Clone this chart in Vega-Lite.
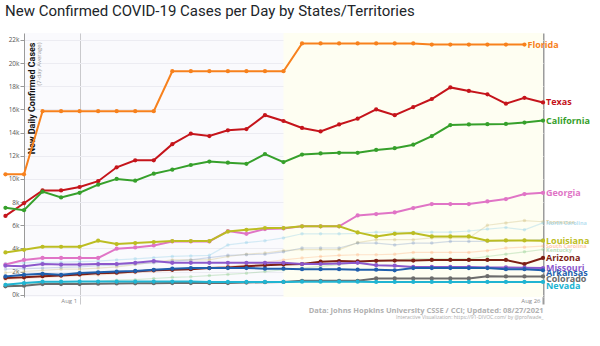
{
  "$schema": "https://vega.github.io/schema/vega-lite/v6.json",
  "width": 519,
  "height": 264,
  "autosize": {"type": "none"},
  "padding": {"left": 24, "top": 33, "right": 57, "bottom": 49},
  "background": "#ffffff",
  "title": {
    "text": "New Confirmed COVID-19 Cases per Day by States/Territories",
    "anchor": "start", "frame": "group", "dx": -19, "offset": 14,
    "font": "Roboto", "fontSize": 15, "fontWeight": "normal", "color": "#212529"
  },
  "config": {"view": {"fill": "#fafafd", "stroke": null}, "font": "Open Sans"},
  "datasets": {
    "band": [{"from": "2021-08-12", "to": "2021-08-26"}],
    "series": [
{"state":"Florida","date":"2021-07-28","cases":10400},{"state":"Florida","date":"2021-07-29","cases":10400},{"state":"Florida","date":"2021-07-30","cases":15850},{"state":"Florida","date":"2021-07-31","cases":15850},{"state":"Florida","date":"2021-08-01","cases":15850},{"state":"Florida","date":"2021-08-02","cases":15850},{"state":"Florida","date":"2021-08-03","cases":15850},{"state":"Florida","date":"2021-08-04","cases":15850},{"state":"Florida","date":"2021-08-05","cases":15850},{"state":"Florida","date":"2021-08-06","cases":19300},{"state":"Florida","date":"2021-08-07","cases":19300},{"state":"Florida","date":"2021-08-08","cases":19300},{"state":"Florida","date":"2021-08-09","cases":19300},{"state":"Florida","date":"2021-08-10","cases":19300},{"state":"Florida","date":"2021-08-11","cases":19300},{"state":"Florida","date":"2021-08-12","cases":19300},{"state":"Florida","date":"2021-08-13","cases":21700},{"state":"Florida","date":"2021-08-14","cases":21700},{"state":"Florida","date":"2021-08-15","cases":21700},{"state":"Florida","date":"2021-08-16","cases":21700},{"state":"Florida","date":"2021-08-17","cases":21700},{"state":"Florida","date":"2021-08-18","cases":21700},{"state":"Florida","date":"2021-08-19","cases":21700},{"state":"Florida","date":"2021-08-20","cases":21600},{"state":"Florida","date":"2021-08-21","cases":21600},{"state":"Florida","date":"2021-08-22","cases":21600},{"state":"Florida","date":"2021-08-23","cases":21600},{"state":"Florida","date":"2021-08-24","cases":21600},{"state":"Florida","date":"2021-08-25","cases":21600},
{"state":"Texas","date":"2021-07-28","cases":6800},{"state":"Texas","date":"2021-07-29","cases":7900},{"state":"Texas","date":"2021-07-30","cases":9000},{"state":"Texas","date":"2021-07-31","cases":9000},{"state":"Texas","date":"2021-08-01","cases":9300},{"state":"Texas","date":"2021-08-02","cases":9800},{"state":"Texas","date":"2021-08-03","cases":11000},{"state":"Texas","date":"2021-08-04","cases":11600},{"state":"Texas","date":"2021-08-05","cases":11600},{"state":"Texas","date":"2021-08-06","cases":13000},{"state":"Texas","date":"2021-08-07","cases":13900},{"state":"Texas","date":"2021-08-08","cases":13700},{"state":"Texas","date":"2021-08-09","cases":14200},{"state":"Texas","date":"2021-08-10","cases":14300},{"state":"Texas","date":"2021-08-11","cases":15500},{"state":"Texas","date":"2021-08-12","cases":15000},{"state":"Texas","date":"2021-08-13","cases":14400},{"state":"Texas","date":"2021-08-14","cases":14100},{"state":"Texas","date":"2021-08-15","cases":14700},{"state":"Texas","date":"2021-08-16","cases":15200},{"state":"Texas","date":"2021-08-17","cases":16000},{"state":"Texas","date":"2021-08-18","cases":15500},{"state":"Texas","date":"2021-08-19","cases":16200},{"state":"Texas","date":"2021-08-20","cases":16900},{"state":"Texas","date":"2021-08-21","cases":17900},{"state":"Texas","date":"2021-08-22","cases":17600},{"state":"Texas","date":"2021-08-23","cases":17300},{"state":"Texas","date":"2021-08-24","cases":16500},{"state":"Texas","date":"2021-08-25","cases":17000},{"state":"Texas","date":"2021-08-26","cases":16600},
{"state":"California","date":"2021-07-28","cases":7500},{"state":"California","date":"2021-07-29","cases":7300},{"state":"California","date":"2021-07-30","cases":8900},{"state":"California","date":"2021-07-31","cases":8400},{"state":"California","date":"2021-08-01","cases":8800},{"state":"California","date":"2021-08-02","cases":9500},{"state":"California","date":"2021-08-03","cases":10000},{"state":"California","date":"2021-08-04","cases":9850},{"state":"California","date":"2021-08-05","cases":10450},{"state":"California","date":"2021-08-06","cases":10800},{"state":"California","date":"2021-08-07","cases":11200},{"state":"California","date":"2021-08-08","cases":11500},{"state":"California","date":"2021-08-09","cases":11400},{"state":"California","date":"2021-08-10","cases":11300},{"state":"California","date":"2021-08-11","cases":12150},{"state":"California","date":"2021-08-12","cases":11450},{"state":"California","date":"2021-08-13","cases":12100},{"state":"California","date":"2021-08-14","cases":12200},{"state":"California","date":"2021-08-15","cases":12250},{"state":"California","date":"2021-08-16","cases":12250},{"state":"California","date":"2021-08-17","cases":12500},{"state":"California","date":"2021-08-18","cases":12650},{"state":"California","date":"2021-08-19","cases":12950},{"state":"California","date":"2021-08-20","cases":13700},{"state":"California","date":"2021-08-21","cases":14650},{"state":"California","date":"2021-08-22","cases":14700},{"state":"California","date":"2021-08-23","cases":14730},{"state":"California","date":"2021-08-24","cases":14750},{"state":"California","date":"2021-08-25","cases":14870},{"state":"California","date":"2021-08-26","cases":15040},
{"state":"Georgia","date":"2021-07-28","cases":2600},{"state":"Georgia","date":"2021-07-29","cases":3000},{"state":"Georgia","date":"2021-07-30","cases":3170},{"state":"Georgia","date":"2021-07-31","cases":3170},{"state":"Georgia","date":"2021-08-01","cases":3170},{"state":"Georgia","date":"2021-08-02","cases":3170},{"state":"Georgia","date":"2021-08-03","cases":3970},{"state":"Georgia","date":"2021-08-04","cases":4080},{"state":"Georgia","date":"2021-08-05","cases":4250},{"state":"Georgia","date":"2021-08-06","cases":4600},{"state":"Georgia","date":"2021-08-07","cases":4600},{"state":"Georgia","date":"2021-08-08","cases":4600},{"state":"Georgia","date":"2021-08-09","cases":5500},{"state":"Georgia","date":"2021-08-10","cases":5260},{"state":"Georgia","date":"2021-08-11","cases":5670},{"state":"Georgia","date":"2021-08-12","cases":5720},{"state":"Georgia","date":"2021-08-13","cases":5900},{"state":"Georgia","date":"2021-08-14","cases":5900},{"state":"Georgia","date":"2021-08-15","cases":5900},{"state":"Georgia","date":"2021-08-16","cases":6840},{"state":"Georgia","date":"2021-08-17","cases":6960},{"state":"Georgia","date":"2021-08-18","cases":7100},{"state":"Georgia","date":"2021-08-19","cases":7480},{"state":"Georgia","date":"2021-08-20","cases":7830},{"state":"Georgia","date":"2021-08-21","cases":7830},{"state":"Georgia","date":"2021-08-22","cases":7830},{"state":"Georgia","date":"2021-08-23","cases":8050},{"state":"Georgia","date":"2021-08-24","cases":8260},{"state":"Georgia","date":"2021-08-25","cases":8690},{"state":"Georgia","date":"2021-08-26","cases":8800},
{"state":"Louisiana","date":"2021-07-28","cases":3650},{"state":"Louisiana","date":"2021-07-29","cases":3880},{"state":"Louisiana","date":"2021-07-30","cases":4140},{"state":"Louisiana","date":"2021-07-31","cases":4140},{"state":"Louisiana","date":"2021-08-01","cases":4140},{"state":"Louisiana","date":"2021-08-02","cases":4660},{"state":"Louisiana","date":"2021-08-03","cases":4370},{"state":"Louisiana","date":"2021-08-04","cases":4460},{"state":"Louisiana","date":"2021-08-05","cases":4550},{"state":"Louisiana","date":"2021-08-06","cases":4630},{"state":"Louisiana","date":"2021-08-07","cases":4630},{"state":"Louisiana","date":"2021-08-08","cases":4630},{"state":"Louisiana","date":"2021-08-09","cases":5450},{"state":"Louisiana","date":"2021-08-10","cases":5600},{"state":"Louisiana","date":"2021-08-11","cases":5750},{"state":"Louisiana","date":"2021-08-12","cases":5750},{"state":"Louisiana","date":"2021-08-13","cases":5900},{"state":"Louisiana","date":"2021-08-14","cases":5900},{"state":"Louisiana","date":"2021-08-15","cases":5900},{"state":"Louisiana","date":"2021-08-16","cases":5380},{"state":"Louisiana","date":"2021-08-17","cases":5030},{"state":"Louisiana","date":"2021-08-18","cases":5260},{"state":"Louisiana","date":"2021-08-19","cases":5320},{"state":"Louisiana","date":"2021-08-20","cases":5030},{"state":"Louisiana","date":"2021-08-21","cases":5030},{"state":"Louisiana","date":"2021-08-22","cases":5030},{"state":"Louisiana","date":"2021-08-23","cases":4660},{"state":"Louisiana","date":"2021-08-24","cases":4690},{"state":"Louisiana","date":"2021-08-25","cases":4690},{"state":"Louisiana","date":"2021-08-26","cases":4660},
{"state":"Arizona","date":"2021-07-28","cases":1450},{"state":"Arizona","date":"2021-07-29","cases":1500},{"state":"Arizona","date":"2021-07-30","cases":1600},{"state":"Arizona","date":"2021-07-31","cases":1650},{"state":"Arizona","date":"2021-08-01","cases":1750},{"state":"Arizona","date":"2021-08-02","cases":1850},{"state":"Arizona","date":"2021-08-03","cases":1900},{"state":"Arizona","date":"2021-08-04","cases":2000},{"state":"Arizona","date":"2021-08-05","cases":2100},{"state":"Arizona","date":"2021-08-06","cases":2150},{"state":"Arizona","date":"2021-08-07","cases":2200},{"state":"Arizona","date":"2021-08-08","cases":2300},{"state":"Arizona","date":"2021-08-09","cases":2350},{"state":"Arizona","date":"2021-08-10","cases":2450},{"state":"Arizona","date":"2021-08-11","cases":2550},{"state":"Arizona","date":"2021-08-12","cases":2600},{"state":"Arizona","date":"2021-08-13","cases":2650},{"state":"Arizona","date":"2021-08-14","cases":2850},{"state":"Arizona","date":"2021-08-15","cases":2900},{"state":"Arizona","date":"2021-08-16","cases":2870},{"state":"Arizona","date":"2021-08-17","cases":2930},{"state":"Arizona","date":"2021-08-18","cases":2950},{"state":"Arizona","date":"2021-08-19","cases":2950},{"state":"Arizona","date":"2021-08-20","cases":3000},{"state":"Arizona","date":"2021-08-21","cases":3000},{"state":"Arizona","date":"2021-08-22","cases":3000},{"state":"Arizona","date":"2021-08-23","cases":3000},{"state":"Arizona","date":"2021-08-24","cases":3000},{"state":"Arizona","date":"2021-08-25","cases":2650},{"state":"Arizona","date":"2021-08-26","cases":3170},
{"state":"Missouri","date":"2021-07-28","cases":2500},{"state":"Missouri","date":"2021-07-29","cases":2450},{"state":"Missouri","date":"2021-07-30","cases":2650},{"state":"Missouri","date":"2021-07-31","cases":2600},{"state":"Missouri","date":"2021-08-01","cases":2600},{"state":"Missouri","date":"2021-08-02","cases":2650},{"state":"Missouri","date":"2021-08-03","cases":2650},{"state":"Missouri","date":"2021-08-04","cases":2750},{"state":"Missouri","date":"2021-08-05","cases":2900},{"state":"Missouri","date":"2021-08-06","cases":2750},{"state":"Missouri","date":"2021-08-07","cases":2750},{"state":"Missouri","date":"2021-08-08","cases":2750},{"state":"Missouri","date":"2021-08-09","cases":2750},{"state":"Missouri","date":"2021-08-10","cases":2750},{"state":"Missouri","date":"2021-08-11","cases":2750},{"state":"Missouri","date":"2021-08-12","cases":2750},{"state":"Missouri","date":"2021-08-13","cases":2650},{"state":"Missouri","date":"2021-08-14","cases":2650},{"state":"Missouri","date":"2021-08-15","cases":2700},{"state":"Missouri","date":"2021-08-16","cases":2750},{"state":"Missouri","date":"2021-08-17","cases":2550},{"state":"Missouri","date":"2021-08-18","cases":2500},{"state":"Missouri","date":"2021-08-19","cases":2400},{"state":"Missouri","date":"2021-08-20","cases":2400},{"state":"Missouri","date":"2021-08-21","cases":2400},{"state":"Missouri","date":"2021-08-22","cases":2400},{"state":"Missouri","date":"2021-08-23","cases":2350},{"state":"Missouri","date":"2021-08-24","cases":2350},{"state":"Missouri","date":"2021-08-25","cases":2330},{"state":"Missouri","date":"2021-08-26","cases":2300},
{"state":"Arkansas","date":"2021-07-28","cases":1580},{"state":"Arkansas","date":"2021-07-29","cases":1720},{"state":"Arkansas","date":"2021-07-30","cases":1800},{"state":"Arkansas","date":"2021-07-31","cases":1720},{"state":"Arkansas","date":"2021-08-01","cases":1870},{"state":"Arkansas","date":"2021-08-02","cases":1930},{"state":"Arkansas","date":"2021-08-03","cases":2000},{"state":"Arkansas","date":"2021-08-04","cases":2050},{"state":"Arkansas","date":"2021-08-05","cases":2150},{"state":"Arkansas","date":"2021-08-06","cases":2250},{"state":"Arkansas","date":"2021-08-07","cases":2300},{"state":"Arkansas","date":"2021-08-08","cases":2300},{"state":"Arkansas","date":"2021-08-09","cases":2300},{"state":"Arkansas","date":"2021-08-10","cases":2300},{"state":"Arkansas","date":"2021-08-11","cases":2250},{"state":"Arkansas","date":"2021-08-12","cases":2250},{"state":"Arkansas","date":"2021-08-13","cases":2200},{"state":"Arkansas","date":"2021-08-14","cases":2200},{"state":"Arkansas","date":"2021-08-15","cases":2200},{"state":"Arkansas","date":"2021-08-16","cases":2160},{"state":"Arkansas","date":"2021-08-17","cases":2160},{"state":"Arkansas","date":"2021-08-18","cases":2100},{"state":"Arkansas","date":"2021-08-19","cases":2300},{"state":"Arkansas","date":"2021-08-20","cases":2300},{"state":"Arkansas","date":"2021-08-21","cases":2300},{"state":"Arkansas","date":"2021-08-22","cases":2300},{"state":"Arkansas","date":"2021-08-23","cases":2300},{"state":"Arkansas","date":"2021-08-24","cases":2200},{"state":"Arkansas","date":"2021-08-25","cases":2200},{"state":"Arkansas","date":"2021-08-26","cases":2100},
{"state":"Colorado","date":"2021-07-28","cases":720},{"state":"Colorado","date":"2021-07-29","cases":780},{"state":"Colorado","date":"2021-07-30","cases":920},{"state":"Colorado","date":"2021-07-31","cases":920},{"state":"Colorado","date":"2021-08-01","cases":920},{"state":"Colorado","date":"2021-08-02","cases":950},{"state":"Colorado","date":"2021-08-03","cases":970},{"state":"Colorado","date":"2021-08-04","cases":980},{"state":"Colorado","date":"2021-08-05","cases":990},{"state":"Colorado","date":"2021-08-06","cases":1000},{"state":"Colorado","date":"2021-08-07","cases":1000},{"state":"Colorado","date":"2021-08-08","cases":1000},{"state":"Colorado","date":"2021-08-09","cases":1000},{"state":"Colorado","date":"2021-08-10","cases":1050},{"state":"Colorado","date":"2021-08-11","cases":1080},{"state":"Colorado","date":"2021-08-12","cases":1100},{"state":"Colorado","date":"2021-08-13","cases":1200},{"state":"Colorado","date":"2021-08-14","cases":1200},{"state":"Colorado","date":"2021-08-15","cases":1200},{"state":"Colorado","date":"2021-08-16","cases":1200},{"state":"Colorado","date":"2021-08-17","cases":1400},{"state":"Colorado","date":"2021-08-18","cases":1400},{"state":"Colorado","date":"2021-08-19","cases":1400},{"state":"Colorado","date":"2021-08-20","cases":1400},{"state":"Colorado","date":"2021-08-21","cases":1400},{"state":"Colorado","date":"2021-08-22","cases":1400},{"state":"Colorado","date":"2021-08-23","cases":1600},{"state":"Colorado","date":"2021-08-24","cases":1580},{"state":"Colorado","date":"2021-08-25","cases":1580},{"state":"Colorado","date":"2021-08-26","cases":1580},
{"state":"Nevada","date":"2021-07-28","cases":850},{"state":"Nevada","date":"2021-07-29","cases":1000},{"state":"Nevada","date":"2021-07-30","cases":1120},{"state":"Nevada","date":"2021-07-31","cases":1120},{"state":"Nevada","date":"2021-08-01","cases":1130},{"state":"Nevada","date":"2021-08-02","cases":1130},{"state":"Nevada","date":"2021-08-03","cases":1130},{"state":"Nevada","date":"2021-08-04","cases":1130},{"state":"Nevada","date":"2021-08-05","cases":1130},{"state":"Nevada","date":"2021-08-06","cases":1130},{"state":"Nevada","date":"2021-08-07","cases":1130},{"state":"Nevada","date":"2021-08-08","cases":1100},{"state":"Nevada","date":"2021-08-09","cases":1100},{"state":"Nevada","date":"2021-08-10","cases":1100},{"state":"Nevada","date":"2021-08-11","cases":1100},{"state":"Nevada","date":"2021-08-12","cases":1100},{"state":"Nevada","date":"2021-08-13","cases":1120},{"state":"Nevada","date":"2021-08-14","cases":1120},{"state":"Nevada","date":"2021-08-15","cases":1120},{"state":"Nevada","date":"2021-08-16","cases":1120},{"state":"Nevada","date":"2021-08-17","cases":1100},{"state":"Nevada","date":"2021-08-18","cases":1100},{"state":"Nevada","date":"2021-08-19","cases":1100},{"state":"Nevada","date":"2021-08-20","cases":1100},{"state":"Nevada","date":"2021-08-21","cases":1100},{"state":"Nevada","date":"2021-08-22","cases":1100},{"state":"Nevada","date":"2021-08-23","cases":1100},{"state":"Nevada","date":"2021-08-24","cases":1100},{"state":"Nevada","date":"2021-08-25","cases":1100},{"state":"Nevada","date":"2021-08-26","cases":1100},
{"state":"Tennessee","date":"2021-07-28","cases":1900},{"state":"Tennessee","date":"2021-07-29","cases":2000},{"state":"Tennessee","date":"2021-07-30","cases":2100},{"state":"Tennessee","date":"2021-07-31","cases":2200},{"state":"Tennessee","date":"2021-08-01","cases":2200},{"state":"Tennessee","date":"2021-08-02","cases":2300},{"state":"Tennessee","date":"2021-08-03","cases":2400},{"state":"Tennessee","date":"2021-08-04","cases":2600},{"state":"Tennessee","date":"2021-08-05","cases":2800},{"state":"Tennessee","date":"2021-08-06","cases":3000},{"state":"Tennessee","date":"2021-08-07","cases":3000},{"state":"Tennessee","date":"2021-08-08","cases":3000},{"state":"Tennessee","date":"2021-08-09","cases":3300},{"state":"Tennessee","date":"2021-08-10","cases":3500},{"state":"Tennessee","date":"2021-08-11","cases":3600},{"state":"Tennessee","date":"2021-08-12","cases":3800},{"state":"Tennessee","date":"2021-08-13","cases":3900},{"state":"Tennessee","date":"2021-08-14","cases":3900},{"state":"Tennessee","date":"2021-08-15","cases":3900},{"state":"Tennessee","date":"2021-08-16","cases":4500},{"state":"Tennessee","date":"2021-08-17","cases":4750},{"state":"Tennessee","date":"2021-08-18","cases":4750},{"state":"Tennessee","date":"2021-08-19","cases":4750},{"state":"Tennessee","date":"2021-08-20","cases":4900},{"state":"Tennessee","date":"2021-08-21","cases":4900},{"state":"Tennessee","date":"2021-08-22","cases":4900},{"state":"Tennessee","date":"2021-08-23","cases":6000},{"state":"Tennessee","date":"2021-08-24","cases":6200},{"state":"Tennessee","date":"2021-08-25","cases":6400},{"state":"Tennessee","date":"2021-08-26","cases":6300},
{"state":"North Carolina","date":"2021-07-28","cases":2700},{"state":"North Carolina","date":"2021-07-29","cases":2750},{"state":"North Carolina","date":"2021-07-30","cases":2800},{"state":"North Carolina","date":"2021-07-31","cases":2800},{"state":"North Carolina","date":"2021-08-01","cases":2850},{"state":"North Carolina","date":"2021-08-02","cases":2900},{"state":"North Carolina","date":"2021-08-03","cases":3000},{"state":"North Carolina","date":"2021-08-04","cases":3100},{"state":"North Carolina","date":"2021-08-05","cases":3200},{"state":"North Carolina","date":"2021-08-06","cases":3300},{"state":"North Carolina","date":"2021-08-07","cases":3350},{"state":"North Carolina","date":"2021-08-08","cases":3400},{"state":"North Carolina","date":"2021-08-09","cases":4300},{"state":"North Carolina","date":"2021-08-10","cases":4500},{"state":"North Carolina","date":"2021-08-11","cases":4660},{"state":"North Carolina","date":"2021-08-12","cases":4900},{"state":"North Carolina","date":"2021-08-13","cases":5260},{"state":"North Carolina","date":"2021-08-14","cases":5260},{"state":"North Carolina","date":"2021-08-15","cases":5260},{"state":"North Carolina","date":"2021-08-16","cases":5300},{"state":"North Carolina","date":"2021-08-17","cases":5400},{"state":"North Carolina","date":"2021-08-18","cases":5400},{"state":"North Carolina","date":"2021-08-19","cases":5400},{"state":"North Carolina","date":"2021-08-20","cases":5400},{"state":"North Carolina","date":"2021-08-21","cases":5400},{"state":"North Carolina","date":"2021-08-22","cases":5500},{"state":"North Carolina","date":"2021-08-23","cases":5670},{"state":"North Carolina","date":"2021-08-24","cases":5800},{"state":"North Carolina","date":"2021-08-25","cases":5600},{"state":"North Carolina","date":"2021-08-26","cases":6200},
{"state":"Alabama","date":"2021-07-28","cases":2200},{"state":"Alabama","date":"2021-07-29","cases":2250},{"state":"Alabama","date":"2021-07-30","cases":2300},{"state":"Alabama","date":"2021-07-31","cases":2350},{"state":"Alabama","date":"2021-08-01","cases":2400},{"state":"Alabama","date":"2021-08-02","cases":2500},{"state":"Alabama","date":"2021-08-03","cases":2550},{"state":"Alabama","date":"2021-08-04","cases":2650},{"state":"Alabama","date":"2021-08-05","cases":2750},{"state":"Alabama","date":"2021-08-06","cases":2900},{"state":"Alabama","date":"2021-08-07","cases":3000},{"state":"Alabama","date":"2021-08-08","cases":3200},{"state":"Alabama","date":"2021-08-09","cases":3400},{"state":"Alabama","date":"2021-08-10","cases":3450},{"state":"Alabama","date":"2021-08-11","cases":3500},{"state":"Alabama","date":"2021-08-12","cases":3700},{"state":"Alabama","date":"2021-08-13","cases":4030},{"state":"Alabama","date":"2021-08-14","cases":4030},{"state":"Alabama","date":"2021-08-15","cases":4030},{"state":"Alabama","date":"2021-08-16","cases":4460},{"state":"Alabama","date":"2021-08-17","cases":4460},{"state":"Alabama","date":"2021-08-18","cases":4300},{"state":"Alabama","date":"2021-08-19","cases":4460},{"state":"Alabama","date":"2021-08-20","cases":4460},{"state":"Alabama","date":"2021-08-21","cases":4600},{"state":"Alabama","date":"2021-08-22","cases":4600},{"state":"Alabama","date":"2021-08-23","cases":4600},{"state":"Alabama","date":"2021-08-24","cases":4650},{"state":"Alabama","date":"2021-08-25","cases":4700},{"state":"Alabama","date":"2021-08-26","cases":4750},
{"state":"South Carolina","date":"2021-07-28","cases":1300},{"state":"South Carolina","date":"2021-07-29","cases":1400},{"state":"South Carolina","date":"2021-07-30","cases":1500},{"state":"South Carolina","date":"2021-07-31","cases":1550},{"state":"South Carolina","date":"2021-08-01","cases":1650},{"state":"South Carolina","date":"2021-08-02","cases":1700},{"state":"South Carolina","date":"2021-08-03","cases":1800},{"state":"South Carolina","date":"2021-08-04","cases":1900},{"state":"South Carolina","date":"2021-08-05","cases":2000},{"state":"South Carolina","date":"2021-08-06","cases":2100},{"state":"South Carolina","date":"2021-08-07","cases":2200},{"state":"South Carolina","date":"2021-08-08","cases":2300},{"state":"South Carolina","date":"2021-08-09","cases":2450},{"state":"South Carolina","date":"2021-08-10","cases":2600},{"state":"South Carolina","date":"2021-08-11","cases":2800},{"state":"South Carolina","date":"2021-08-12","cases":3000},{"state":"South Carolina","date":"2021-08-13","cases":3170},{"state":"South Carolina","date":"2021-08-14","cases":3300},{"state":"South Carolina","date":"2021-08-15","cases":3400},{"state":"South Carolina","date":"2021-08-16","cases":3450},{"state":"South Carolina","date":"2021-08-17","cases":3450},{"state":"South Carolina","date":"2021-08-18","cases":3500},{"state":"South Carolina","date":"2021-08-19","cases":3650},{"state":"South Carolina","date":"2021-08-20","cases":3650},{"state":"South Carolina","date":"2021-08-21","cases":3650},{"state":"South Carolina","date":"2021-08-22","cases":3650},{"state":"South Carolina","date":"2021-08-23","cases":3800},{"state":"South Carolina","date":"2021-08-24","cases":4030},{"state":"South Carolina","date":"2021-08-25","cases":4100},{"state":"South Carolina","date":"2021-08-26","cases":4200},
{"state":"Kentucky","date":"2021-07-28","cases":900},{"state":"Kentucky","date":"2021-07-29","cases":950},{"state":"Kentucky","date":"2021-07-30","cases":1000},{"state":"Kentucky","date":"2021-07-31","cases":1050},{"state":"Kentucky","date":"2021-08-01","cases":1100},{"state":"Kentucky","date":"2021-08-02","cases":1150},{"state":"Kentucky","date":"2021-08-03","cases":1250},{"state":"Kentucky","date":"2021-08-04","cases":1300},{"state":"Kentucky","date":"2021-08-05","cases":1400},{"state":"Kentucky","date":"2021-08-06","cases":1500},{"state":"Kentucky","date":"2021-08-07","cases":1550},{"state":"Kentucky","date":"2021-08-08","cases":1650},{"state":"Kentucky","date":"2021-08-09","cases":1750},{"state":"Kentucky","date":"2021-08-10","cases":1850},{"state":"Kentucky","date":"2021-08-11","cases":2000},{"state":"Kentucky","date":"2021-08-12","cases":2150},{"state":"Kentucky","date":"2021-08-13","cases":2300},{"state":"Kentucky","date":"2021-08-14","cases":2450},{"state":"Kentucky","date":"2021-08-15","cases":2600},{"state":"Kentucky","date":"2021-08-16","cases":2800},{"state":"Kentucky","date":"2021-08-17","cases":2900},{"state":"Kentucky","date":"2021-08-18","cases":3000},{"state":"Kentucky","date":"2021-08-19","cases":3100},{"state":"Kentucky","date":"2021-08-20","cases":3100},{"state":"Kentucky","date":"2021-08-21","cases":3100},{"state":"Kentucky","date":"2021-08-22","cases":3100},{"state":"Kentucky","date":"2021-08-23","cases":3300},{"state":"Kentucky","date":"2021-08-24","cases":3500},{"state":"Kentucky","date":"2021-08-25","cases":3700},{"state":"Kentucky","date":"2021-08-26","cases":3900}
    ]
  },
  "data": {"name": "series"},
  "resolve": {"axis": {"x": "independent", "y": "independent"}},
  "layer": [
    {
      "data": {"name": "band"},
      "mark": {"type": "rect", "color": "#fefef2"},
      "encoding": {
        "x": {"field": "from", "type": "temporal", "axis": null,
              "scale": {"type": "utc", "domain": [{"year": 2021, "month": 7, "date": 29, "utc": true}, {"year": 2021, "month": 8, "date": 26, "utc": true}]}},
        "x2": {"field": "to"}
      }
    },
    {
      "transform": [{"filter": "indexof(['Tennessee','North Carolina','Alabama','South Carolina','Kentucky'], datum.state) >= 0"}],
      "mark": {"type": "line", "strokeWidth": 1.2, "opacity": 0.3, "point": {"filled": true, "size": 12, "opacity": 0.3}},
      "encoding": {
        "x": {"field": "date", "type": "temporal", "axis": null,
              "scale": {"type": "utc", "domain": [{"year": 2021, "month": 7, "date": 29, "utc": true}, {"year": 2021, "month": 8, "date": 26, "utc": true}]}},
        "y": {"field": "cases", "type": "quantitative", "axis": null, "scale": {"domain": [-200, 22600], "nice": false, "zero": false}},
        "color": {"field": "state", "type": "nominal", "legend": null,
          "scale": {"domain": ["Florida","Texas","California","Georgia","Louisiana","Arizona","Missouri","Arkansas","Colorado","Nevada","Tennessee","North Carolina","Alabama","South Carolina","Kentucky"],
                    "range": ["#f7811d","#c5141b","#36a02b","#e074c6","#bcbd22","#7e1f14","#8c58cc","#1f5fad","#6b6b6b","#20b4d2","#c8b36a","#7fc8e6","#6f8fbf","#ffa46b","#7cc47c"]}}
      }
    },
    {
      "transform": [{"filter": "indexof(['Tennessee','North Carolina','Alabama','South Carolina','Kentucky'], datum.state) < 0"}],
      "mark": {"type": "line", "strokeWidth": 2, "point": {"filled": true, "size": 18}},
      "encoding": {
        "x": {"field": "date", "type": "temporal",
              "scale": {"type": "utc", "domain": [{"year": 2021, "month": 7, "date": 29, "utc": true}, {"year": 2021, "month": 8, "date": 26, "utc": true}]},
              "axis": {
                "orient": "bottom",
                "values": [{"year": 2021, "month": 8, "date": 1, "utc": true}, {"year": 2021, "month": 8, "date": 26, "utc": true}],
                "labelExpr": "utcFormat(datum.value, '%b %-d')",
                "domain": false,
                "grid": true,
                "gridColor": {"condition": {"test": "datum.value > utc(2021,7,20)", "value": "#9c9c9c"}, "value": "#c9c9cc"},
                "gridWidth": {"condition": {"test": "datum.value > utc(2021,7,20)", "value": 2}, "value": 1},
                "tickColor": {"condition": {"test": "datum.value > utc(2021,7,20)", "value": "#9c9c9c"}, "value": "#c9c9cc"},
                "tickWidth": {"condition": {"test": "datum.value > utc(2021,7,20)", "value": 2}, "value": 1},
                "tickSize": 7,
                "labelAlign": "right", "labelBaseline": "top", "labelPadding": -7, "labelOffset": -3,
                "labelFontSize": 6, "labelColor": "#8a8a8a", "labelFont": "Open Sans",
                "title": "Data: Johns Hopkins University CSSE / CCI; Updated: 08/27/2021",
                "titleX": 519, "titleY": 13, "titleAlign": "right", "titleAnchor": "end", "titleBaseline": "middle",
                "titleFontSize": 7.5, "titleFontWeight": "bold", "titleColor": "#b0b0b0", "titleFont": "Open Sans"
              }},
        "y": {"field": "cases", "type": "quantitative",
              "scale": {"domain": [-200, 22600], "nice": false, "zero": false},
              "axis": {
                "orient": "left",
                "values": [0, 2000, 4000, 6000, 8000, 10000, 12000, 14000, 16000, 18000, 20000, 22000],
                "format": "~s",
                "labelFontSize": 6.5, "labelColor": "#555", "labelPadding": 1, "labelFont": "Open Sans",
                "tickSize": 4, "tickColor": "#999", "domainColor": "#9a9a9a",
                "grid": true, "gridColor": "#ececf2",
                "title": "New Daily Confirmed Cases",
                "titleX": 7, "titleY": 9, "titleAngle": 270, "titleAlign": "right", "titleBaseline": "middle",
                "titleFontSize": 9, "titleFontWeight": "bold", "titleColor": "#111", "titleFont": "Roboto"
              }},
        "color": {"field": "state", "type": "nominal", "legend": null,
          "scale": {"domain": ["Florida","Texas","California","Georgia","Louisiana","Arizona","Missouri","Arkansas","Colorado","Nevada","Tennessee","North Carolina","Alabama","South Carolina","Kentucky"],
                    "range": ["#f7811d","#c5141b","#36a02b","#e074c6","#bcbd22","#7e1f14","#8c58cc","#1f5fad","#6b6b6b","#20b4d2","#c8b36a","#7fc8e6","#6f8fbf","#ffa46b","#7cc47c"]}}
      }
    },
    {
      "transform": [
        {"filter": "indexof(['Florida','Texas','California','Georgia','Louisiana','Arizona','Missouri'], datum.state) >= 0"},
        {"joinaggregate": [{"op": "max", "field": "date", "as": "last"}], "groupby": ["state"]},
        {"filter": "time(datum.date) === time(datum.last)"}
      ],
      "mark": {"type": "text", "align": "left", "baseline": "middle", "dx": 3, "fontWeight": "bold", "fontSize": 9, "font": "Open Sans"},
      "encoding": {
        "x": {"field": "date", "type": "temporal",
              "scale": {"type": "utc", "domain": [{"year": 2021, "month": 7, "date": 29, "utc": true}, {"year": 2021, "month": 8, "date": 26, "utc": true}]},
              "axis": {"orient": "top", "labels": false, "ticks": false, "domain": false, "grid": false,
                       "title": "Interactive Visualization: https://91-DIVOC.com/ by @profwade_",
                       "titleX": 519, "titleY": 283, "titleAlign": "right", "titleAnchor": "end", "titleBaseline": "middle",
                       "titleFontSize": 5, "titleFontWeight": "normal", "titleColor": "#aaa", "titleFont": "Open Sans"}},
        "y": {"field": "cases", "type": "quantitative",
              "scale": {"domain": [-200, 22600], "nice": false, "zero": false},
              "axis": {"orient": "right", "labels": false, "ticks": false, "domain": false, "grid": false,
                       "title": "(7-day Average)",
                       "titleX": -505, "titleY": 9, "titleAngle": 270, "titleAlign": "right", "titleBaseline": "middle",
                       "titleFontSize": 6, "titleFontWeight": "normal", "titleColor": "#999", "titleFont": "Open Sans"}},
        "text": {"field": "state"},
        "color": {"field": "state", "type": "nominal", "legend": null,
          "scale": {"domain": ["Florida","Texas","California","Georgia","Louisiana","Arizona","Missouri","Arkansas","Colorado","Nevada","Tennessee","North Carolina","Alabama","South Carolina","Kentucky"],
                    "range": ["#f7811d","#c5141b","#36a02b","#e074c6","#bcbd22","#7e1f14","#8c58cc","#1f5fad","#6b6b6b","#20b4d2","#c8b36a","#7fc8e6","#6f8fbf","#ffa46b","#7cc47c"]}}
      }
    },
    {
      "transform": [
        {"filter": "indexof(['Arkansas','Colorado'], datum.state) >= 0"},
        {"joinaggregate": [{"op": "max", "field": "date", "as": "last"}], "groupby": ["state"]},
        {"filter": "time(datum.date) === time(datum.last)"}
      ],
      "mark": {"type": "text", "align": "left", "baseline": "middle", "dx": 3, "dy": 2.5, "fontWeight": "bold", "fontSize": 9, "font": "Open Sans"},
      "encoding": {
        "x": {"field": "date", "type": "temporal", "axis": null,
              "scale": {"type": "utc", "domain": [{"year": 2021, "month": 7, "date": 29, "utc": true}, {"year": 2021, "month": 8, "date": 26, "utc": true}]}},
        "y": {"field": "cases", "type": "quantitative", "axis": null, "scale": {"domain": [-200, 22600], "nice": false, "zero": false}},
        "text": {"field": "state"},
        "color": {"field": "state", "type": "nominal", "legend": null}
      }
    },
    {
      "transform": [
        {"filter": "datum.state === 'Nevada'"},
        {"joinaggregate": [{"op": "max", "field": "date", "as": "last"}], "groupby": ["state"]},
        {"filter": "time(datum.date) === time(datum.last)"}
      ],
      "mark": {"type": "text", "align": "left", "baseline": "middle", "dx": 3, "dy": 4, "fontWeight": "bold", "fontSize": 9, "font": "Open Sans"},
      "encoding": {
        "x": {"field": "date", "type": "temporal", "axis": null,
              "scale": {"type": "utc", "domain": [{"year": 2021, "month": 7, "date": 29, "utc": true}, {"year": 2021, "month": 8, "date": 26, "utc": true}]}},
        "y": {"field": "cases", "type": "quantitative", "axis": null, "scale": {"domain": [-200, 22600], "nice": false, "zero": false}},
        "text": {"field": "state"},
        "color": {"field": "state", "type": "nominal", "legend": null}
      }
    },
    {
      "transform": [
        {"filter": "indexof(['Tennessee','North Carolina','South Carolina','Kentucky'], datum.state) >= 0"},
        {"joinaggregate": [{"op": "max", "field": "date", "as": "last"}], "groupby": ["state"]},
        {"filter": "time(datum.date) === time(datum.last)"}
      ],
      "mark": {"type": "text", "align": "left", "baseline": "middle", "dx": 3, "fontWeight": "bold", "fontSize": 5.5, "opacity": 0.55, "font": "Open Sans"},
      "encoding": {
        "x": {"field": "date", "type": "temporal", "axis": null,
              "scale": {"type": "utc", "domain": [{"year": 2021, "month": 7, "date": 29, "utc": true}, {"year": 2021, "month": 8, "date": 26, "utc": true}]}},
        "y": {"field": "cases", "type": "quantitative", "axis": null, "scale": {"domain": [-200, 22600], "nice": false, "zero": false}},
        "text": {"field": "state"},
        "color": {"field": "state", "type": "nominal", "legend": null}
      }
    }
  ]
}
